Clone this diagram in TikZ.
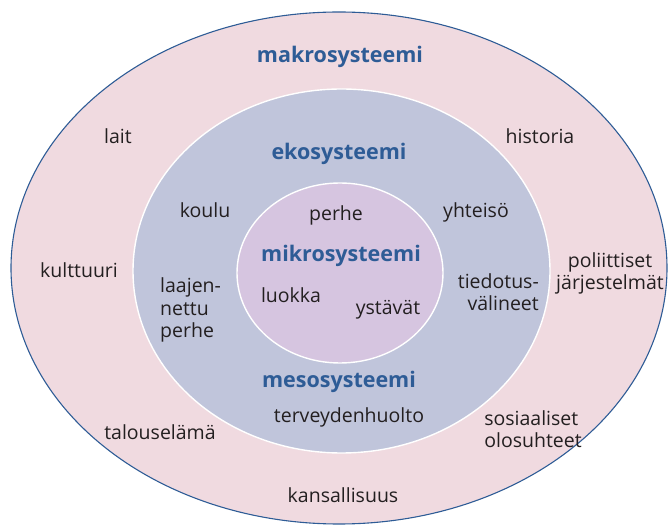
\documentclass[tikz,border=0pt]{standalone}
\usepackage{fontspec}
\setmainfont{Open Sans}
\definecolor{outerfill}{RGB}{240,218,224}
\definecolor{midfill}{RGB}{192,197,219}
\definecolor{innerfill}{RGB}{214,197,224}
\definecolor{rimblue}{RGB}{46,92,150}
\definecolor{titleblue}{RGB}{46,92,150}
\definecolor{txt}{RGB}{35,31,32}
\begin{document}
\begin{tikzpicture}[x=1pt,y=-1pt,
  lbl/.style={font=\fontsize{19.5}{22.5}\selectfont, text=txt, inner sep=0pt, anchor=base},
  ttl/.style={font=\fontsize{21.5}{24}\selectfont\bfseries, text=titleblue, inner sep=0pt, anchor=base},
  ring/.style={line width=1.4pt, draw=white}]
\useasboundingbox (0,0) rectangle (670,526);
% ellipses
\path[fill=outerfill, draw=rimblue, line width=1.1pt] (339,268) ellipse [x radius=328pt, y radius=256pt];
\path[ring, fill=midfill] (341.5,271) ellipse [x radius=208.5pt, y radius=182pt];
\path[ring, fill=innerfill] (340,273) ellipse [x radius=103pt, y radius=90pt];
% titles
\node[ttl] (makro) at (340,63) {makrosysteemi};
\node[ttl] (eko) at (339,160) {ekosysteemi};
\node[ttl] (mikro) at (341,262) {mikrosysteemi};
\node[ttl] (meso) at (339,388) {mesosysteemi};
% outer labels
\node[lbl] (lait) at (118,144) {lait};
\node[lbl] (historia) at (540,144) {historia};
\node[lbl] (kulttuuri) at (79,278) {kulttuuri};
\node[lbl, align=center] (poliittiset) at (610,290) {poliittiset\\järjestelmät};
\node[lbl] (talous) at (160,440) {talouselämä};
\node[lbl, align=left] (sosiaaliset) at (533,448) {sosiaaliset\\olosuhteet};
\node[lbl] (kansallisuus) at (343,503) {kansallisuus};
% middle labels
\node[lbl] (koulu) at (205,218) {koulu};
\node[lbl] (yhteiso) at (476,218) {yhteisö};
\node[lbl, align=left, anchor=base west] (laajen) at (160,338) {laajen-\\nettu\\perhe};
\node[lbl, align=right, anchor=base east] (tiedotus) at (539,311) {tiedotus-\\välineet};
\node[lbl] (terveys) at (349,423) {terveydenhuolto};
% inner labels
\node[lbl] (perhe) at (336,221) {perhe};
\node[lbl] (luokka) at (291,303) {luokka};
\node[lbl] (ystavat) at (388,315) {ystävät};
\end{tikzpicture}
\end{document}
